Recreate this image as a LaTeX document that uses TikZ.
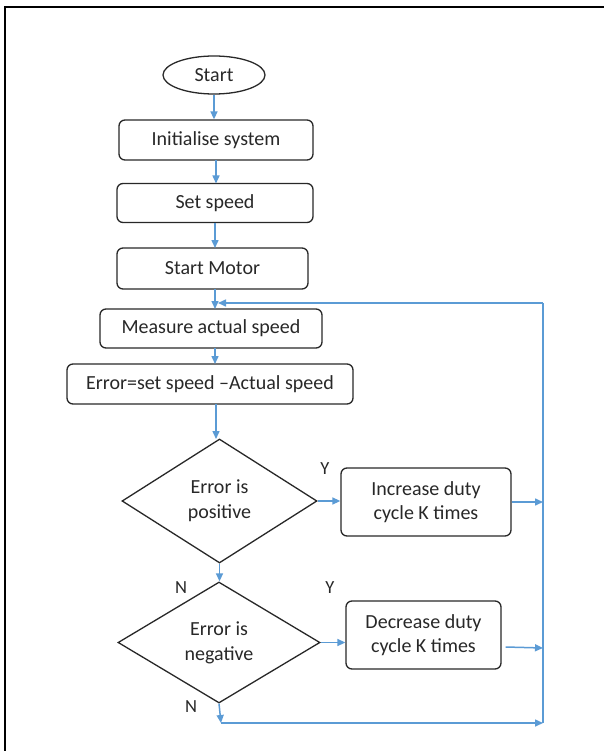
\documentclass[tikz,border=0pt]{standalone}
\usepackage{fontspec}
\setmainfont{Carlito}
\usetikzlibrary{shapes.geometric,arrows.meta}
\definecolor{flowblue}{RGB}{91,155,213}
\definecolor{ink}{RGB}{40,40,40}
\tikzset{
  procbox/.style={draw=ink, line width=1.3pt, rounded corners=6pt, inner sep=0pt, text=ink, font=\fontsize{20}{24}\selectfont, align=center},
  decbox/.style={draw=ink, line width=1.3pt, diamond, shape aspect=1.6, inner sep=0pt, text=ink, font=\fontsize{20}{25}\selectfont, align=center},
  termbox/.style={draw=ink, line width=1.3pt, ellipse, inner sep=0pt, text=ink, font=\fontsize{20}{24}\selectfont},
  flow/.style={draw=flowblue, line width=1.5pt, -{Triangle[length=8pt,width=7pt]}},
  flowline/.style={draw=flowblue, line width=1.5pt},
  lbl/.style={text=ink, font=\fontsize{18.5}{22}\selectfont, inner sep=0pt}
}
\begin{document}
\begin{tikzpicture}[x=1pt,y=-1pt]
\useasboundingbox (0,0) rectangle (604,751);
\fill[white] (0,0) rectangle (604,751);
% frame
\draw[black, line width=2.5pt] (5,751) -- (5,7) -- (604,7);

\node[termbox, minimum width=102pt, minimum height=38pt] (start) at (214,75) {Start};
\node[procbox, minimum width=194pt, minimum height=40pt] (init) at (216,140) {Initialise system};
\node[procbox, minimum width=196pt, minimum height=39pt] (setsp) at (215,203) {Set speed};
\node[procbox, minimum width=191pt, minimum height=41pt] (motor) at (212.5,268.5) {Start Motor};
\node[procbox, minimum width=222pt, minimum height=39pt] (meas) at (211,328.5) {Measure actual speed};
\node[procbox, minimum width=286pt, minimum height=40pt] (err) at (210,384) {Error=set speed –Actual speed};
\node[decbox, minimum width=195pt, minimum height=124pt] (pos) at (219.5,501) {Error is\\positive};
\node[procbox, minimum width=170pt, minimum height=68pt] (inc) at (426,502) {Increase duty\\cycle K times};
\node[decbox, minimum width=202pt, minimum height=121pt] (neg) at (219,642.5) {Error is\\negative};
\node[procbox, minimum width=155pt, minimum height=68pt] (dec) at (423.5,635) {Decrease duty\\cycle K times};

\node[lbl] (y1) at (325,469) {Y};
\node[lbl] (y2) at (330,588) {Y};
\node[lbl] (n1) at (181,588) {N};
\node[lbl] (n2) at (191,707) {N};

\coordinate (join) at (218,303);
\coordinate (loopR) at (543,303);
\coordinate (loopB) at (543,723);
\coordinate (bot) at (221,723);

\draw[flow] (start.south) -- (start.south |- init.north);
\draw[flow] (216,160) -- (216,183.5);
\draw[flow] (215,222.5) -- (215,248);
\draw[flow] (215,289) -- (215,309);
\draw[flow] (215,348) -- (215,364);
\draw[flow] (216,404) -- (216,439);
\draw[flow] (pos.east) -- (pos.east -| inc.west);
\draw[flow] (inc.east) -- (inc.east -| loopR);
\draw[flow] (pos.south) -- (pos.south |- neg.north);
\draw[flow] (neg.east) -- (neg.east -| dec.west);
\draw[flow] ([xshift=4pt,yshift=-12pt]dec.east) -- ([yshift=-13pt]dec.east -| loopR);
\draw[flow] (neg.south) -- (bot);
\draw[flow] (bot) -- (loopB);
\draw[flowline] (loopB) -- (loopR);
\draw[flow] (loopR) -- (join);
\end{tikzpicture}
\end{document}
